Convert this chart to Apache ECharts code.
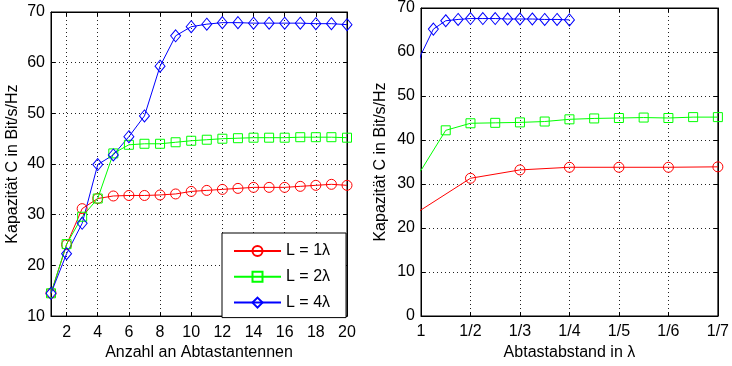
<!DOCTYPE html>
<html><head><meta charset="utf-8">
<script src="https://cdn.jsdelivr.net/npm/echarts@6/dist/echarts.min.js"></script>
<style>html,body{margin:0;padding:0;background:#fff}#c{width:732px;height:366px}</style>
</head><body><div id="c"></div>
<script>
// ---- data ----
const seriesNames = ['L = 1\u03bb', 'L = 2\u03bb', 'L = 4\u03bb'];
const seriesColors = ['#ff0000', '#00ff00', '#0000ff'];

// left panel: number of sampling antennas
const antennaCounts = [1,2,3,4,5,6,7,8,9,10,11,12,13,14,15,16,17,18,19,20];
const leftRed   = [14.5,24.1,31.2,33.2,33.7,33.8,33.8,33.9,34.1,34.6,34.8,35.0,35.2,35.4,35.4,35.4,35.6,35.8,36.0,35.8];
const leftGreen = [14.5,24.2,29.6,33.2,42.1,43.8,44.0,44.0,44.3,44.6,44.8,45.0,45.1,45.2,45.2,45.2,45.3,45.3,45.3,45.2];
const leftBlue  = [14.5,22.3,28.3,39.9,41.8,45.4,49.5,59.3,65.3,67.1,67.6,67.9,67.9,67.8,67.8,67.8,67.8,67.7,67.7,67.5];
const leftXTicks = [2,4,6,8,10,12,14,16,18,20];

// right panel: sampling distance (index k means 1/k lambda)
const rightRedX   = [0,1,2,3,4,5,6,7];
const rightRedY   = [14.5,24.1,31.3,33.2,33.8,33.8,33.8,33.9];
const rightGreenX = [0.5,1,1.5,2,2.5,3,3.5,4,4.5,5,5.5,6,6.5,7];
const rightGreenY = [29.6,33.1,42.2,43.8,43.9,44.0,44.2,44.7,44.9,45.0,45.1,45.0,45.2,45.2];
const rightBlueX  = [0.75,1,1.25,1.5,1.75,2,2.25,2.5,2.75,3,3.25,3.5,3.75,4];
const rightBlueY  = [49.5,59.4,65.2,67.1,67.4,67.6,67.6,67.6,67.5,67.5,67.5,67.4,67.4,67.3];
const rightXTickLabels = ['1','1/2','1/3','1/4','1/5','1/6','1/7'];

// ---- chart ----
const FONT = 'Liberation Sans, Arial, Helvetica, sans-serif';
const FS = 16;
const symbols = ['circle', 'rect', 'diamond'];
const symbolSizes = [10, 9, [10, 12]];

const chart = echarts.init(document.getElementById('c'), null, {renderer: 'canvas'});

function zip(xs, ys) { return xs.map((x, i) => [x, ys[i]]); }
function rightData(xs, ys) {
  return xs.map((x, i) => x <= 1 ? {value: [x, ys[i]], symbol: 'none'} : [x, ys[i]]);
}
function mkSeries(i, data, xi, yi) {
  return {
    type: 'line', name: seriesNames[i], xAxisIndex: xi, yAxisIndex: yi,
    data: data, symbol: symbols[i], symbolSize: symbolSizes[i],
    showAllSymbol: true, clip: true,
    lineStyle: {color: seriesColors[i], width: 1},
    itemStyle: {color: 'rgba(255,255,255,0)', borderColor: seriesColors[i], borderWidth: 1},
    emphasis: {disabled: true}, animation: false
  };
}

const gridStyle = {show: true, borderColor: '#000', borderWidth: 1, backgroundColor: 'rgba(0,0,0,0)'};
const splitLineStyle = {show: true, lineStyle: {color: '#222', type: [1, 3], width: 1}};
const axisLineStyle = {show: true, onZero: false, lineStyle: {color: '#000', width: 1}};
const tickStyle = {show: true, inside: true, length: 4, lineStyle: {color: '#000'}};
const labelStyle = {color: '#000', fontSize: FS, fontFamily: FONT};
const nameStyle = {color: '#000', fontSize: FS, fontFamily: FONT};

const option = {
  backgroundColor: '#fff',
  animation: false,
  grid: [
    Object.assign({left: 51, top: 12, width: 296, height: 308}, gridStyle),
    Object.assign({left: 421, top: 6, width: 300, height: 313}, gridStyle)
  ],
  xAxis: [
    {type: 'value', gridIndex: 0, min: 1, max: 20, position: 'bottom',
     axisLine: axisLineStyle,
     axisTick: Object.assign({customValues: leftXTicks}, tickStyle),
     axisLabel: Object.assign({customValues: leftXTicks, margin: 8}, labelStyle),
     splitLine: splitLineStyle,
     name: 'Anzahl an Abtastantennen', nameLocation: 'middle', nameGap: 27, nameTextStyle: nameStyle},
    {type: 'value', gridIndex: 1, min: 1, max: 7, interval: 1, position: 'bottom',
     axisLine: axisLineStyle, axisTick: tickStyle,
     axisLabel: Object.assign({margin: 8, formatter: v => rightXTickLabels[Math.round(v) - 1] || ''}, labelStyle),
     splitLine: splitLineStyle,
     name: 'Abtastabstand in \u03bb', nameLocation: 'middle', nameGap: 29, nameTextStyle: nameStyle},
    {type: 'value', gridIndex: 0, min: 1, max: 20, position: 'top',
     axisLine: axisLineStyle, axisTick: Object.assign({customValues: leftXTicks}, tickStyle),
     axisLabel: {show: false}, splitLine: {show: false}},
    {type: 'value', gridIndex: 1, min: 1, max: 7, interval: 1, position: 'top',
     axisLine: axisLineStyle, axisTick: tickStyle,
     axisLabel: {show: false}, splitLine: {show: false}}
  ],
  yAxis: [
    {type: 'value', gridIndex: 0, min: 10, max: 70, interval: 10, position: 'left',
     axisLine: axisLineStyle, axisTick: tickStyle,
     axisLabel: Object.assign({margin: 6}, labelStyle),
     splitLine: splitLineStyle,
     name: 'Kapazit\u00e4t C in Bit/s/Hz', nameLocation: 'middle', nameGap: 30, nameTextStyle: nameStyle},
    {type: 'value', gridIndex: 1, min: 0, max: 70, interval: 10, position: 'left',
     axisLine: axisLineStyle, axisTick: tickStyle,
     axisLabel: Object.assign({margin: 6}, labelStyle),
     splitLine: splitLineStyle,
     name: 'Kapazit\u00e4t C in Bit/s/Hz', nameLocation: 'middle', nameGap: 32, nameTextStyle: nameStyle},
    {type: 'value', gridIndex: 0, min: 10, max: 70, interval: 10, position: 'right',
     axisLine: axisLineStyle, axisTick: tickStyle, axisLabel: {show: false}, splitLine: {show: false}},
    {type: 'value', gridIndex: 1, min: 0, max: 70, interval: 10, position: 'right',
     axisLine: axisLineStyle, axisTick: tickStyle, axisLabel: {show: false}, splitLine: {show: false}}
  ],
  legend: {
    show: true, orient: 'vertical', left: 222, top: 233,
    padding: [10, 16, 7, 11], itemGap: 9.8, itemWidth: 47, itemHeight: 12.5,
    borderColor: '#000', borderWidth: 1, backgroundColor: '#fff',
    data: seriesNames, selectedMode: false,
    textStyle: {color: '#000', fontSize: FS, fontFamily: FONT}
  },
  series: [
    mkSeries(0, zip(antennaCounts, leftRed), 0, 0),
    mkSeries(1, zip(antennaCounts, leftGreen), 0, 0),
    mkSeries(2, zip(antennaCounts, leftBlue), 0, 0),
    mkSeries(0, rightData(rightRedX, rightRedY), 1, 1),
    mkSeries(1, rightData(rightGreenX, rightGreenY), 1, 1),
    mkSeries(2, rightData(rightBlueX, rightBlueY), 1, 1)
  ]
};
chart.setOption(option);
</script>
</body></html>
